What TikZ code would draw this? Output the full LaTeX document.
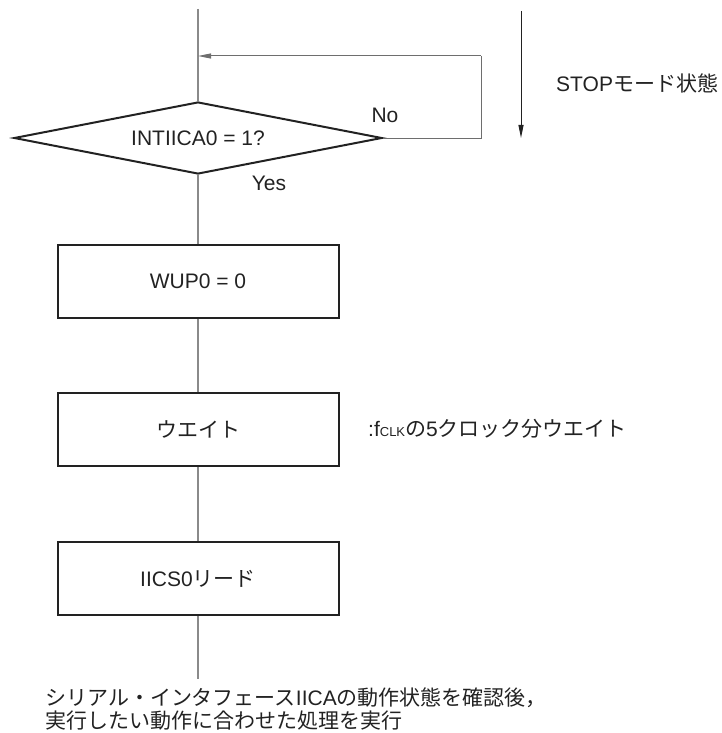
\documentclass[tikz,border=0pt]{standalone}
\usepackage{fontspec}
\setmainfont{Liberation Sans}
\newfontfamily\jpfont{Noto Sans CJK JP}
\newcommand\jtext[1]{{\jpfont #1}}
\usetikzlibrary{shapes.geometric,arrows.meta}
\definecolor{ink}{HTML}{222222}
\definecolor{wire}{HTML}{8A8A8A}
\definecolor{loopc}{HTML}{6E6E6E}
\begin{document}
\begin{tikzpicture}[x=1pt,y=-1pt,
  every node/.style={font=\fontsize{21}{23}\selectfont, text=ink},
  procbox/.style={rectangle, draw=ink, line width=2pt, minimum width=281pt, minimum height=73pt, inner sep=0pt},
  decision/.style={diamond, draw=ink, line width=2pt, shape aspect=5, minimum width=368pt, minimum height=72pt, inner sep=0pt},
  wireline/.style={draw=wire, line width=1.2pt},
  loopline/.style={draw=loopc, line width=1pt},
  tipped/.style={-{Triangle[length=13pt,width=5pt]}},
  label/.style={inner sep=0pt}
]
\useasboundingbox (0,0) rectangle (721,733);
% coordinates for free ends
\coordinate (top) at (198,9);
\coordinate (fb) at (198,56);
\coordinate (corner) at (481,56);
\coordinate (bottom) at (198,679);
\coordinate (sa) at (521,11);
\coordinate (sb) at (521,138);
% nodes
\node[decision] (dec) at (198,138) {INTIICA0 = 1?};
\node[procbox] (b1) at (198,281) {WUP0 = 0};
\node[procbox] (b2) at (198,429.5) {\jtext{ウエイト}};
\node[procbox] (b3) at (198,578.7) {IICS0\jtext{リード}};
\node[label] (no) at (385,115) {No};
\node[label] (yes) at (269,183) {Yes};
\node[label, anchor=west] (stop) at (556,83) {STOP\jtext{モード状態}};
\node[label, anchor=west] (wait) at (368,429) {:f{\fontsize{13}{13}\selectfont CLK}\jtext{の}5\jtext{クロック分ウエイト}};
\node[label, anchor=base west] (note1) at (45,705) {\jtext{シリアル・インタフェース}IICA\jtext{の動作状態を確認後，}};
\node[label, anchor=base west] (note2) at (45,728) {\jtext{実行したい動作に合わせた処理を実行}};
% connectors
\draw[wireline] (top) -- (dec.north);
\draw[wireline] (dec.south) -- (b1.north);
\draw[wireline] (b1.south) -- (b2.north);
\draw[wireline] (b2.south) -- (b3.north);
\draw[wireline] (b3.south) -- (bottom);
\draw[loopline] (dec.east) -| (corner);
\draw[loopline, tipped] (corner) -- (fb);
\draw[ink, line width=1pt, tipped] (sa) -- (sb);
\end{tikzpicture}
\end{document}
